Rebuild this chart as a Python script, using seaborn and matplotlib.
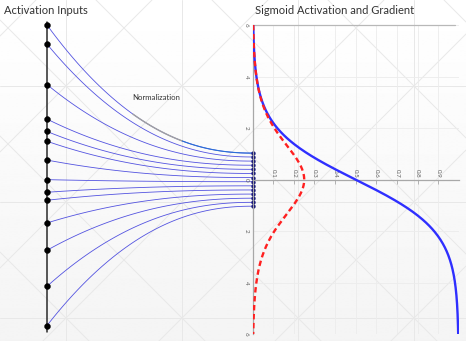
import numpy as np
import pandas as pd
import matplotlib
matplotlib.use("Agg")
import matplotlib.pyplot as plt
import seaborn as sns

# Raw activation inputs (left column) and their normalized counterparts (right end of each connector)
input_values = [6.0, 5.26, 3.69, 2.35, 1.87, 1.49, 0.76, 0.0, -0.49, -0.80, -1.68, -2.74, -4.14, -5.66]
normalized_values = [1.03, 0.88, 0.72, 0.56, 0.40, 0.24, 0.08, -0.08, -0.24, -0.40, -0.56, -0.72, -0.88, -1.03]

# Sigmoid panel axes
z_ticks = [-6, -4, -2, 0, 2, 4, 6]
z_tick_labels = ["6", "4", "2", "0", "2", "4", "6"]
sig_ticks = [0.1, 0.2, 0.3, 0.4, 0.5, 0.6, 0.7, 0.8, 0.9]
sig_tick_labels = ["0.1", "0.2", "0.3", "0.4", "0.5", "0.6", "0.7", "0.8", "0.9"]

titles = ["Activation Inputs", "Sigmoid Activation and Gradient"]
connector_label = "Normalization"

sns.set_style("white")
plt.rcParams["font.family"] = ["Lato", "DejaVu Sans"]

W, H = 466, 341
fig = plt.figure(figsize=(W / 100, H / 100), dpi=100, facecolor="white")

# ---- background: soft gradient with a faint diagonal lattice ----
bg = fig.add_axes([0, 0, 1, 1], zorder=-10)
bg.set_xlim(0, W)
bg.set_ylim(H, 0)
bg.axis("off")
grad = np.linspace(1.0, 0.957, 256)[:, None]
bg.imshow(grad, extent=[0, W, H, 0], cmap="gray", vmin=0, vmax=1, aspect="auto", zorder=0)
lattice = dict(color="#e8e8e8", lw=0.7, zorder=1)
for gx in [66, 182, 298, 414]:
    bg.axvline(gx, **lattice)
for gy in [86, 202, 318]:
    bg.axhline(gy, **lattice)
for k in range(-5, 5):
    bg.axline((0, 20 + 116 * k), slope=1, **lattice)
for k in range(-2, 9):
    bg.axline((0, 152 + 116 * k), slope=-1, **lattice)

# shared vertical geometry (pixels)
y_top, y_bot = 25.0, 334.3
ax_bottom = (H - y_bot) / H
ax_height = (y_bot - y_top) / H

# ---- left panel: inputs connected to their normalized values ----
x_left, x_right = 47.0, 252.7
axl = fig.add_axes([x_left / W, ax_bottom, (x_right - x_left) / W, ax_height])
axl.set_xlim(0, 1)
axl.set_ylim(-6, 6)
axl.axis("off")
axl.patch.set_alpha(0)

t = np.linspace(0, 1, 80)
rows = []
for i, (a, b) in enumerate(zip(input_values, normalized_values)):
    yy = b + (a - b) * (1 - t) ** 2.2
    rows.append(pd.DataFrame({"t": t, "v": yy, "unit": i}))
curves = pd.concat(rows, ignore_index=True)
sns.lineplot(data=curves, x="t", y="v", units="unit", estimator=None, sort=False,
             color="#5353e0", lw=0.6, ax=axl, legend=False)

# highlighted stretch along the top connector
top = curves[curves["unit"] == 0]
seg1 = top[(top["t"] >= 0.41) & (top["t"] <= 0.66)]
seg2 = top[top["t"] >= 0.65]
sns.lineplot(data=seg1, x="t", y="v", sort=False, estimator=None, color="#a0a0a0", lw=1.0, ax=axl)
sns.lineplot(data=seg2, x="t", y="v", sort=False, estimator=None, color="#2a6fd6", lw=0.8, ax=axl)

axl.plot([0, 0], [6.12, -5.9], color="#2a2a2a", lw=1.1, clip_on=False, zorder=3)
pts_in = pd.DataFrame({"x": 0.0, "v": input_values})
pts_out = pd.DataFrame({"x": 1.0, "v": normalized_values})
sns.scatterplot(data=pts_in, x="x", y="v", color="black", s=18, edgecolor="black",
                linewidth=0.3, ax=axl, clip_on=False, zorder=4)
sns.scatterplot(data=pts_out, x="x", y="v", color="#0b0b70", s=8, edgecolor="#0b0b70",
                linewidth=0.2, ax=axl, clip_on=False, zorder=4)
axl.set_xlabel("")
axl.set_ylabel("")

# ---- right panel: sigmoid and its gradient, z running downward ----
axr = fig.add_axes([x_right / W, ax_bottom, 206.0 / W, ax_height])
axr.patch.set_alpha(0)
z = np.linspace(-6, 6, 400)
sig = 1 / (1 + np.exp(-z))
curve_df = pd.DataFrame({"z": z, "sigmoid": sig, "gradient": sig * (1 - sig)})
sns.lineplot(data=curve_df, x="sigmoid", y="z", sort=False, estimator=None,
             color="#2f2fff", lw=1.7, ax=axr, zorder=3)
sns.lineplot(data=curve_df, x="gradient", y="z", sort=False, estimator=None,
             color="#ff2020", lw=1.7, dashes=False, ax=axr, zorder=4)
axr.lines[-1].set_dashes((2.3, 1.5))

axr.set_xlim(0, 1)
axr.set_ylim(6, -6)
axr.set_xlabel("")
axr.set_ylabel("")
for s in ["bottom", "right"]:
    axr.spines[s].set_visible(False)
axr.spines["top"].set_position(("data", 0))
axr.spines["top"].set_color("#a8a8a8")
axr.spines["left"].set_color("#a8a8a8")
axr.spines["top"].set_linewidth(0.9)
axr.spines["left"].set_linewidth(0.9)
axr.plot([0, 0.982], [-6, -6], color="#b8b8b8", lw=0.9, clip_on=False, zorder=2)

axr.xaxis.set_ticks_position("top")
axr.set_xticks(sig_ticks)
axr.set_xticklabels(sig_tick_labels, rotation=-90)
axr.set_yticks(z_ticks)
axr.set_yticklabels(z_tick_labels, rotation=-90)
axr.tick_params(axis="x", direction="in", length=3, width=0.6, color="#a8a8a8",
                labelsize=4.5, labelcolor="#606060", pad=1.5)
axr.tick_params(axis="y", direction="in", length=3, width=0.6, color="#a8a8a8",
                labelsize=4.5, labelcolor="#606060", pad=3)
for lab in axr.get_xticklabels():
    lab.set_va("bottom")
for lab in axr.get_yticklabels():
    lab.set_va("center")
axr.grid(True, color="#ececec", lw=0.6)
axr.set_axisbelow(True)

# ---- texts ----
fig.text(4 / W, 1 - 10 / H, titles[0], fontsize=8, color="#333333", ha="left", va="center")
fig.text(255 / W, 1 - 10 / H, titles[1], fontsize=8, color="#333333", ha="left", va="center")
fig.text(132 / W, 1 - 97 / H, connector_label, fontsize=5.6, color="#333333", ha="left", va="center")

fig.savefig("out.png", dpi=100, facecolor="white")
